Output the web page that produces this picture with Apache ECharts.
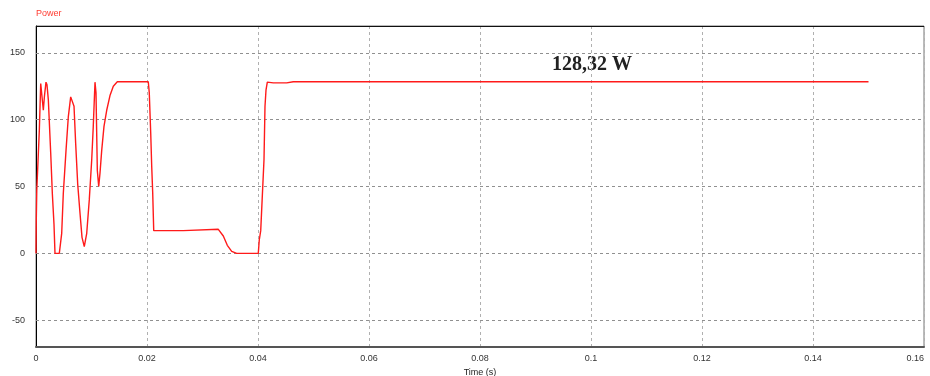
<!DOCTYPE html>
<html>
<head>
<meta charset="utf-8">
<script src="https://cdn.jsdelivr.net/npm/echarts@6/dist/echarts.min.js"></script>
<style>
  html, body { margin: 0; padding: 0; background: #fff; }
  #chart { width: 930px; height: 376px; }
</style>
</head>
<body>
<div id="chart"></div>
<script>
// Simulated output power of the converter over time (s, W)
const timeSec = [
  0, 0.00005, 0.00014, 0.0006, 0.00085, 0.00103, 0.00132, 0.00153, 0.0018, 0.00198,
  0.00222, 0.00265, 0.00294, 0.00324, 0.00342, 0.0042, 0.00463, 0.00492, 0.00541, 0.00582,
  0.00625, 0.00649, 0.00685, 0.00715, 0.00751, 0.00793, 0.00829, 0.0087, 0.00914, 0.0096,
  0.01004, 0.01032, 0.01063, 0.01081, 0.01105, 0.0113, 0.01153, 0.01184, 0.01225, 0.01274,
  0.01333, 0.01393, 0.01465, 0.02023, 0.02041, 0.02067, 0.02085, 0.02103, 0.02121, 0.02654,
  0.02685, 0.03285, 0.03375, 0.03447, 0.03526, 0.03616, 0.04005, 0.04023, 0.04049, 0.04085,
  0.04108, 0.04126, 0.04144, 0.04168, 0.04276, 0.04517, 0.04636, 0.15
];
const powerW = [
  0, 25, 47, 92, 127, 128, 107, 118, 128, 126,
  115, 75, 45, 22, 0, 0, 15, 45, 77, 102,
  117, 118, 110, 82, 52, 30, 12, 5, 15, 40,
  70, 95, 128, 120, 62, 50, 60, 77, 95, 107,
  118, 125, 128.32, 128.32, 120, 90, 65, 45, 17, 17,
  18, 18, 13, 6, 1.5, 0, 0, 10, 17, 17,
  70, 110, 122, 128, 127.5, 127.5, 128.32, 128.32
];
const steadyLabel = '128,32 W';
const xTicks = { min: 0, max: 0.16, step: 0.02 };
const yTicks = { min: -70, max: 170, values: [-50, 0, 50, 100, 150] };

const chart = echarts.init(document.getElementById('chart'));
chart.setOption({
  animation: false,
  backgroundColor: '#ffffff',
  grid: {
    left: 36, right: 6, top: 26, bottom: 29,
    containLabel: false, outerBoundsMode: 'none',
    show: true, borderColor: '#777', borderWidth: 1
  },
  xAxis: {
    type: 'value',
    min: xTicks.min, max: xTicks.max, interval: xTicks.step,
    name: 'Time (s)', nameLocation: 'middle', nameGap: 20,
    nameTextStyle: { fontFamily: 'Liberation Sans', fontSize: 9, color: '#222' },
    axisLine: { show: true, onZero: false, lineStyle: { color: '#555', width: 2 } },
    axisTick: { show: false },
    axisLabel: {
      fontFamily: 'Liberation Sans', fontSize: 9, color: '#333', margin: 7,
      alignMaxLabel: 'right',
      formatter: v => String(+v.toFixed(2))
    },
    splitLine: { show: true, lineStyle: { color: '#b0b0b0', type: [3, 3], width: 1 } }
  },
  yAxis: {
    type: 'value',
    min: yTicks.min, max: yTicks.max,
    axisLine: { show: true, onZero: false, lineStyle: { color: '#000', width: 1 } },
    axisTick: { show: false },
    axisLabel: {
      fontFamily: 'Liberation Sans', fontSize: 9, color: '#333', margin: 11,
      customValues: yTicks.values
    },
    splitLine: { show: false }
  },
  series: [
    {
      type: 'line',
      data: timeSec.map((t, i) => [t, powerW[i]]),
      showSymbol: false,
      lineStyle: { color: '#ff1a1a', width: 1.4 },
      z: 5,
      markLine: {
        silent: true, symbol: 'none', label: { show: false },
        lineStyle: { color: '#909090', type: [3, 3], width: 1 },
        data: yTicks.values.map(v => ({ yAxis: v }))
      }
    }
  ],
  graphic: [
    {
      type: 'line', silent: true, z: 10,
      shape: { x1: 36, y1: 26.5, x2: 924, y2: 26.5 },
      style: { stroke: '#111', lineWidth: 1 }
    },
    {
      type: 'text', left: 36, top: 9,
      style: { text: 'Power', fill: '#ff3b30', font: '9px "Liberation Sans"' }
    },
    {
      type: 'text', left: 552, top: 55,
      style: { text: steadyLabel, fill: '#222', font: 'bold 20px "Liberation Serif"' }
    }
  ]
});
</script>
</body>
</html>
